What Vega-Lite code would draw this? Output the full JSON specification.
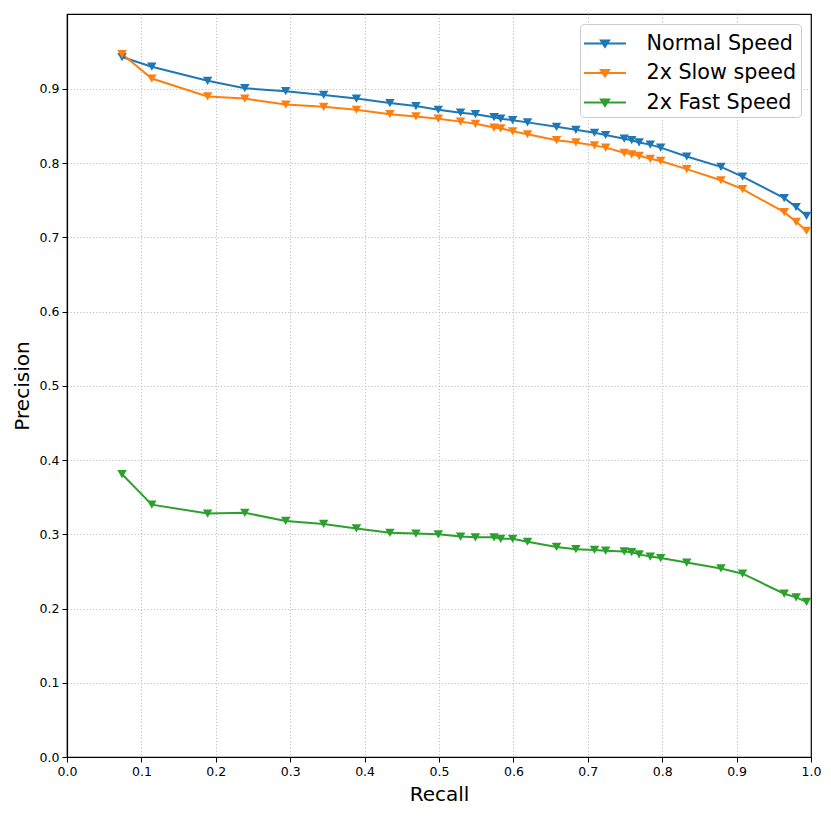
{
  "$schema": "https://vega.github.io/schema/vega-lite/v6.json",
  "width": 744,
  "height": 743,
  "autosize": "none",
  "padding": {"left": 67, "top": 14, "right": 20, "bottom": 59},
  "background": "white",
  "config": {
    "font": "DejaVu Sans",
    "view": {"stroke": "black", "strokeWidth": 1.2},
    "axis": {
      "domain": true,
      "domainColor": "black",
      "domainWidth": 1.2,
      "grid": true,
      "gridColor": "#b0b0b0",
      "gridDash": [1.2, 2],
      "gridWidth": 0.8,
      "tickColor": "black",
      "tickSize": 5,
      "tickWidth": 1,
      "labelColor": "black",
      "labelFont": "DejaVu Sans",
      "labelFontSize": 12.5,
      "labelPadding": 3,
      "labelFlush": false,
      "titleFont": "DejaVu Sans",
      "titleFontSize": 20,
      "titleFontWeight": "normal",
      "titleColor": "black",
      "titlePadding": 7
    },
    "legend": {
      "labelFont": "DejaVu Sans",
      "labelFontSize": 20.7,
      "labelColor": "black"
    }
  },
  "data": {
    "values": [
      {"recall": 0.074, "precision": 0.943, "series": "Normal Speed"},
      {"recall": 0.114, "precision": 0.930, "series": "Normal Speed"},
      {"recall": 0.189, "precision": 0.911, "series": "Normal Speed"},
      {"recall": 0.239, "precision": 0.901, "series": "Normal Speed"},
      {"recall": 0.294, "precision": 0.897, "series": "Normal Speed"},
      {"recall": 0.345, "precision": 0.892, "series": "Normal Speed"},
      {"recall": 0.389, "precision": 0.887, "series": "Normal Speed"},
      {"recall": 0.434, "precision": 0.881, "series": "Normal Speed"},
      {"recall": 0.469, "precision": 0.877, "series": "Normal Speed"},
      {"recall": 0.499, "precision": 0.872, "series": "Normal Speed"},
      {"recall": 0.529, "precision": 0.868, "series": "Normal Speed"},
      {"recall": 0.549, "precision": 0.866, "series": "Normal Speed"},
      {"recall": 0.574, "precision": 0.862, "series": "Normal Speed"},
      {"recall": 0.583, "precision": 0.860, "series": "Normal Speed"},
      {"recall": 0.599, "precision": 0.858, "series": "Normal Speed"},
      {"recall": 0.619, "precision": 0.855, "series": "Normal Speed"},
      {"recall": 0.658, "precision": 0.849, "series": "Normal Speed"},
      {"recall": 0.684, "precision": 0.845, "series": "Normal Speed"},
      {"recall": 0.709, "precision": 0.841, "series": "Normal Speed"},
      {"recall": 0.724, "precision": 0.838, "series": "Normal Speed"},
      {"recall": 0.749, "precision": 0.833, "series": "Normal Speed"},
      {"recall": 0.759, "precision": 0.831, "series": "Normal Speed"},
      {"recall": 0.769, "precision": 0.828, "series": "Normal Speed"},
      {"recall": 0.784, "precision": 0.825, "series": "Normal Speed"},
      {"recall": 0.798, "precision": 0.821, "series": "Normal Speed"},
      {"recall": 0.833, "precision": 0.809, "series": "Normal Speed"},
      {"recall": 0.879, "precision": 0.795, "series": "Normal Speed"},
      {"recall": 0.908, "precision": 0.782, "series": "Normal Speed"},
      {"recall": 0.964, "precision": 0.753, "series": "Normal Speed"},
      {"recall": 0.980, "precision": 0.741, "series": "Normal Speed"},
      {"recall": 0.994, "precision": 0.729, "series": "Normal Speed"},
      {"recall": 0.074, "precision": 0.947, "series": "2x Slow speed"},
      {"recall": 0.114, "precision": 0.914, "series": "2x Slow speed"},
      {"recall": 0.189, "precision": 0.890, "series": "2x Slow speed"},
      {"recall": 0.239, "precision": 0.887, "series": "2x Slow speed"},
      {"recall": 0.294, "precision": 0.879, "series": "2x Slow speed"},
      {"recall": 0.345, "precision": 0.876, "series": "2x Slow speed"},
      {"recall": 0.389, "precision": 0.872, "series": "2x Slow speed"},
      {"recall": 0.434, "precision": 0.866, "series": "2x Slow speed"},
      {"recall": 0.469, "precision": 0.863, "series": "2x Slow speed"},
      {"recall": 0.499, "precision": 0.860, "series": "2x Slow speed"},
      {"recall": 0.529, "precision": 0.856, "series": "2x Slow speed"},
      {"recall": 0.549, "precision": 0.853, "series": "2x Slow speed"},
      {"recall": 0.574, "precision": 0.848, "series": "2x Slow speed"},
      {"recall": 0.583, "precision": 0.847, "series": "2x Slow speed"},
      {"recall": 0.599, "precision": 0.843, "series": "2x Slow speed"},
      {"recall": 0.619, "precision": 0.839, "series": "2x Slow speed"},
      {"recall": 0.658, "precision": 0.831, "series": "2x Slow speed"},
      {"recall": 0.684, "precision": 0.828, "series": "2x Slow speed"},
      {"recall": 0.709, "precision": 0.824, "series": "2x Slow speed"},
      {"recall": 0.724, "precision": 0.821, "series": "2x Slow speed"},
      {"recall": 0.749, "precision": 0.814, "series": "2x Slow speed"},
      {"recall": 0.759, "precision": 0.812, "series": "2x Slow speed"},
      {"recall": 0.769, "precision": 0.810, "series": "2x Slow speed"},
      {"recall": 0.784, "precision": 0.806, "series": "2x Slow speed"},
      {"recall": 0.798, "precision": 0.803, "series": "2x Slow speed"},
      {"recall": 0.833, "precision": 0.792, "series": "2x Slow speed"},
      {"recall": 0.879, "precision": 0.777, "series": "2x Slow speed"},
      {"recall": 0.908, "precision": 0.765, "series": "2x Slow speed"},
      {"recall": 0.964, "precision": 0.734, "series": "2x Slow speed"},
      {"recall": 0.980, "precision": 0.721, "series": "2x Slow speed"},
      {"recall": 0.994, "precision": 0.709, "series": "2x Slow speed"},
      {"recall": 0.074, "precision": 0.381, "series": "2x Fast Speed"},
      {"recall": 0.114, "precision": 0.340, "series": "2x Fast Speed"},
      {"recall": 0.189, "precision": 0.328, "series": "2x Fast Speed"},
      {"recall": 0.239, "precision": 0.329, "series": "2x Fast Speed"},
      {"recall": 0.294, "precision": 0.318, "series": "2x Fast Speed"},
      {"recall": 0.345, "precision": 0.314, "series": "2x Fast Speed"},
      {"recall": 0.389, "precision": 0.308, "series": "2x Fast Speed"},
      {"recall": 0.434, "precision": 0.302, "series": "2x Fast Speed"},
      {"recall": 0.469, "precision": 0.301, "series": "2x Fast Speed"},
      {"recall": 0.499, "precision": 0.300, "series": "2x Fast Speed"},
      {"recall": 0.529, "precision": 0.297, "series": "2x Fast Speed"},
      {"recall": 0.549, "precision": 0.296, "series": "2x Fast Speed"},
      {"recall": 0.574, "precision": 0.296, "series": "2x Fast Speed"},
      {"recall": 0.583, "precision": 0.294, "series": "2x Fast Speed"},
      {"recall": 0.599, "precision": 0.294, "series": "2x Fast Speed"},
      {"recall": 0.619, "precision": 0.290, "series": "2x Fast Speed"},
      {"recall": 0.658, "precision": 0.283, "series": "2x Fast Speed"},
      {"recall": 0.684, "precision": 0.280, "series": "2x Fast Speed"},
      {"recall": 0.709, "precision": 0.279, "series": "2x Fast Speed"},
      {"recall": 0.724, "precision": 0.278, "series": "2x Fast Speed"},
      {"recall": 0.749, "precision": 0.277, "series": "2x Fast Speed"},
      {"recall": 0.759, "precision": 0.276, "series": "2x Fast Speed"},
      {"recall": 0.769, "precision": 0.273, "series": "2x Fast Speed"},
      {"recall": 0.784, "precision": 0.270, "series": "2x Fast Speed"},
      {"recall": 0.798, "precision": 0.268, "series": "2x Fast Speed"},
      {"recall": 0.833, "precision": 0.262, "series": "2x Fast Speed"},
      {"recall": 0.879, "precision": 0.254, "series": "2x Fast Speed"},
      {"recall": 0.908, "precision": 0.247, "series": "2x Fast Speed"},
      {"recall": 0.964, "precision": 0.220, "series": "2x Fast Speed"},
      {"recall": 0.980, "precision": 0.215, "series": "2x Fast Speed"},
      {"recall": 0.994, "precision": 0.209, "series": "2x Fast Speed"}
    ]
  },
  "encoding": {
    "x": {
      "field": "recall",
      "type": "quantitative",
      "title": "Recall",
      "scale": {"domain": [0, 1], "nice": false, "zero": false},
      "axis": {
        "values": [0, 0.1, 0.2, 0.3, 0.4, 0.5, 0.6, 0.7, 0.8, 0.9, 1.0],
        "format": ".1f",
        "gridOpacity": {"condition": {"test": "datum.value <= 0.001 || datum.value >= 0.999", "value": 0}, "value": 1}
      }
    },
    "y": {
      "field": "precision",
      "type": "quantitative",
      "title": "Precision",
      "scale": {"domain": [0, 1.001], "nice": false, "zero": false},
      "axis": {
        "values": [0, 0.1, 0.2, 0.3, 0.4, 0.5, 0.6, 0.7, 0.8, 0.9],
        "format": ".1f",
        "gridOpacity": {"condition": {"test": "datum.value <= 0.001", "value": 0}, "value": 1}
      }
    },
    "color": {
      "field": "series",
      "type": "nominal",
      "scale": {"domain": ["Normal Speed", "2x Slow speed", "2x Fast Speed"], "range": ["#1f77b4", "#ff7f0e", "#2ca02c"]},
      "legend": {
        "title": null,
        "orient": "top-right",
        "offset": 10,
        "padding": 4.5,
        "rowPadding": 4.5,
        "symbolType": "M-1.11,0L1.89,0M0.1,-0.22L0.68,-0.22L0.39,0.24Z",
        "symbolSize": 784,
        "symbolStrokeWidth": 2,
        "symbolOpacity": 1,
        "labelOffset": 32,
        "strokeColor": "#cccccc",
        "fillColor": "rgba(255,255,255,0.85)",
        "cornerRadius": 4,
        "encode": {
          "symbols": {
            "update": {
              "stroke": {"scale": "color", "field": "value"},
              "fill": {"scale": "color", "field": "value"},
              "strokeWidth": {"value": 2}
            }
          }
        }
      }
    }
  },
  "layer": [
    {
      "mark": {"type": "line", "strokeWidth": 2}
    },
    {
      "mark": {"type": "point", "shape": "triangle-down", "filled": true, "size": 90, "strokeWidth": 1, "opacity": 1}
    }
  ]
}
